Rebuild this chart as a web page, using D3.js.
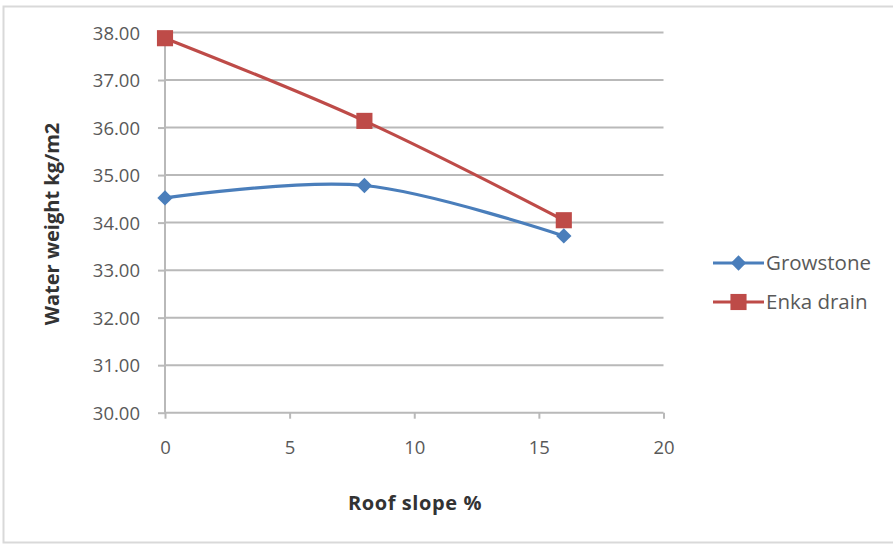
<!DOCTYPE html>
<html>
<head>
<meta charset="utf-8">
<script src="https://cdn.jsdelivr.net/npm/d3@7"></script>
<style>
  html, body { margin: 0; padding: 0; background: #fff; }
  svg { display: block; }
</style>
</head>
<body>
<svg id="chart" width="893" height="544"></svg>
<script>
// Roof slope (%) on the x axis
const slopes = [0, 8, 16];
// Water weight (kg/m2) for each substrate
const growstone = [34.52, 34.78, 33.72];
const enkaDrain = [37.88, 36.14, 34.05];
const seriesNames = ["Growstone", "Enka drain"];
const yTicks = [30, 31, 32, 33, 34, 35, 36, 37, 38];
const xTicks = [0, 5, 10, 15, 20];

const svg = d3.select("#chart");
const W = 893, H = 544;
const plot = { left: 165, right: 663.5, top: 32.5, bottom: 412.7 };

const font = "'Open Sans', 'Liberation Sans', sans-serif";
const tickColor = "#595959";
const gridColor = "#b9b9b9";
const blue = "#4a7ebb";
const red = "#be4b48";

// outer chart frame (open on the right)
svg.append("rect")
  .attr("x", 3.5).attr("y", 6.5)
  .attr("width", W + 10).attr("height", 536)
  .attr("fill", "#fff")
  .attr("stroke", "#d9d9d9").attr("stroke-width", 2);

const x = d3.scaleLinear().domain([0, 20]).range([plot.left, plot.right]);
const y = d3.scaleLinear().domain([30, 38]).range([plot.bottom, plot.top]);

// horizontal gridlines
svg.append("g")
  .selectAll("line")
  .data(yTicks.filter(d => d > 30))
  .join("line")
  .attr("x1", plot.left).attr("x2", plot.right)
  .attr("y1", d => y(d)).attr("y2", d => y(d))
  .attr("stroke", gridColor).attr("stroke-width", 2);

// y axis
const yAxis = svg.append("g")
  .attr("transform", `translate(${plot.left},0)`)
  .call(d3.axisLeft(y).tickValues(yTicks).tickFormat(d3.format(".2f")).tickSize(7).tickPadding(18));
yAxis.select(".domain").attr("stroke", gridColor).attr("stroke-width", 2)
  .attr("d", `M0,${plot.top}V${plot.bottom}`);
yAxis.selectAll(".tick line").attr("stroke", gridColor).attr("stroke-width", 2);
yAxis.selectAll(".tick text")
  .attr("fill", tickColor).attr("font-family", font).attr("font-size", 18.5)
  .attr("dy", "0.36em");

// x axis
const xAxis = svg.append("g")
  .attr("transform", `translate(0,${plot.bottom})`)
  .call(d3.axisBottom(x).tickValues(xTicks).tickFormat(d3.format("d")).tickSize(6).tickPadding(22));
xAxis.select(".domain").attr("stroke", gridColor).attr("stroke-width", 2)
  .attr("d", `M${plot.left},0H${plot.right}`);
xAxis.selectAll(".tick line").attr("stroke", gridColor).attr("stroke-width", 2);
xAxis.selectAll(".tick text")
  .attr("fill", tickColor).attr("font-family", font).attr("font-size", 18.5);

// axis titles
svg.append("text")
  .attr("x", 415).attr("y", 510)
  .attr("text-anchor", "middle")
  .attr("font-family", font).attr("font-weight", "bold").attr("font-size", 20)
  .attr("letter-spacing", 0.6)
  .attr("fill", "#333")
  .text("Roof slope %");

svg.append("text")
  .attr("transform", "translate(59,224) rotate(-90)")
  .attr("text-anchor", "middle")
  .attr("font-family", font).attr("font-weight", "bold").attr("font-size", 20)
  .attr("fill", "#333")
  .text("Water weight kg/m2");

// smoothed series lines
const line = d3.line()
  .x((d, i) => x(slopes[i]))
  .y(d => y(d))
  .curve(d3.curveCardinal.tension(0));

const series = [
  { name: seriesNames[0], values: growstone, color: blue, marker: d3.symbolDiamond2, size: 150 },
  { name: seriesNames[1], values: enkaDrain, color: red, marker: d3.symbolSquare, size: 260 }
];

series.forEach(s => {
  svg.append("path")
    .datum(s.values)
    .attr("d", line)
    .attr("fill", "none")
    .attr("stroke", s.color)
    .attr("stroke-width", 3.2);
});

series.forEach(s => {
  svg.append("g")
    .selectAll("path")
    .data(s.values)
    .join("path")
    .attr("transform", (d, i) => `translate(${x(slopes[i])},${y(d)})`)
    .attr("d", d3.symbol().type(s.marker).size(s.size))
    .attr("fill", s.color);
});

// legend
const legend = svg.append("g");
series.forEach((s, i) => {
  const ly = 263 + i * 39;
  legend.append("line")
    .attr("x1", 713).attr("x2", 764)
    .attr("y1", ly).attr("y2", ly)
    .attr("stroke", s.color).attr("stroke-width", 3.2);
  legend.append("path")
    .attr("transform", `translate(738.5,${ly})`)
    .attr("d", d3.symbol().type(s.marker).size(s.size))
    .attr("fill", s.color);
  legend.append("text")
    .attr("x", 766).attr("y", ly).attr("dy", "0.36em")
    .attr("font-family", font).attr("font-size", 20.5)
    .attr("fill", tickColor)
    .text(s.name);
});
</script>
</body>
</html>
